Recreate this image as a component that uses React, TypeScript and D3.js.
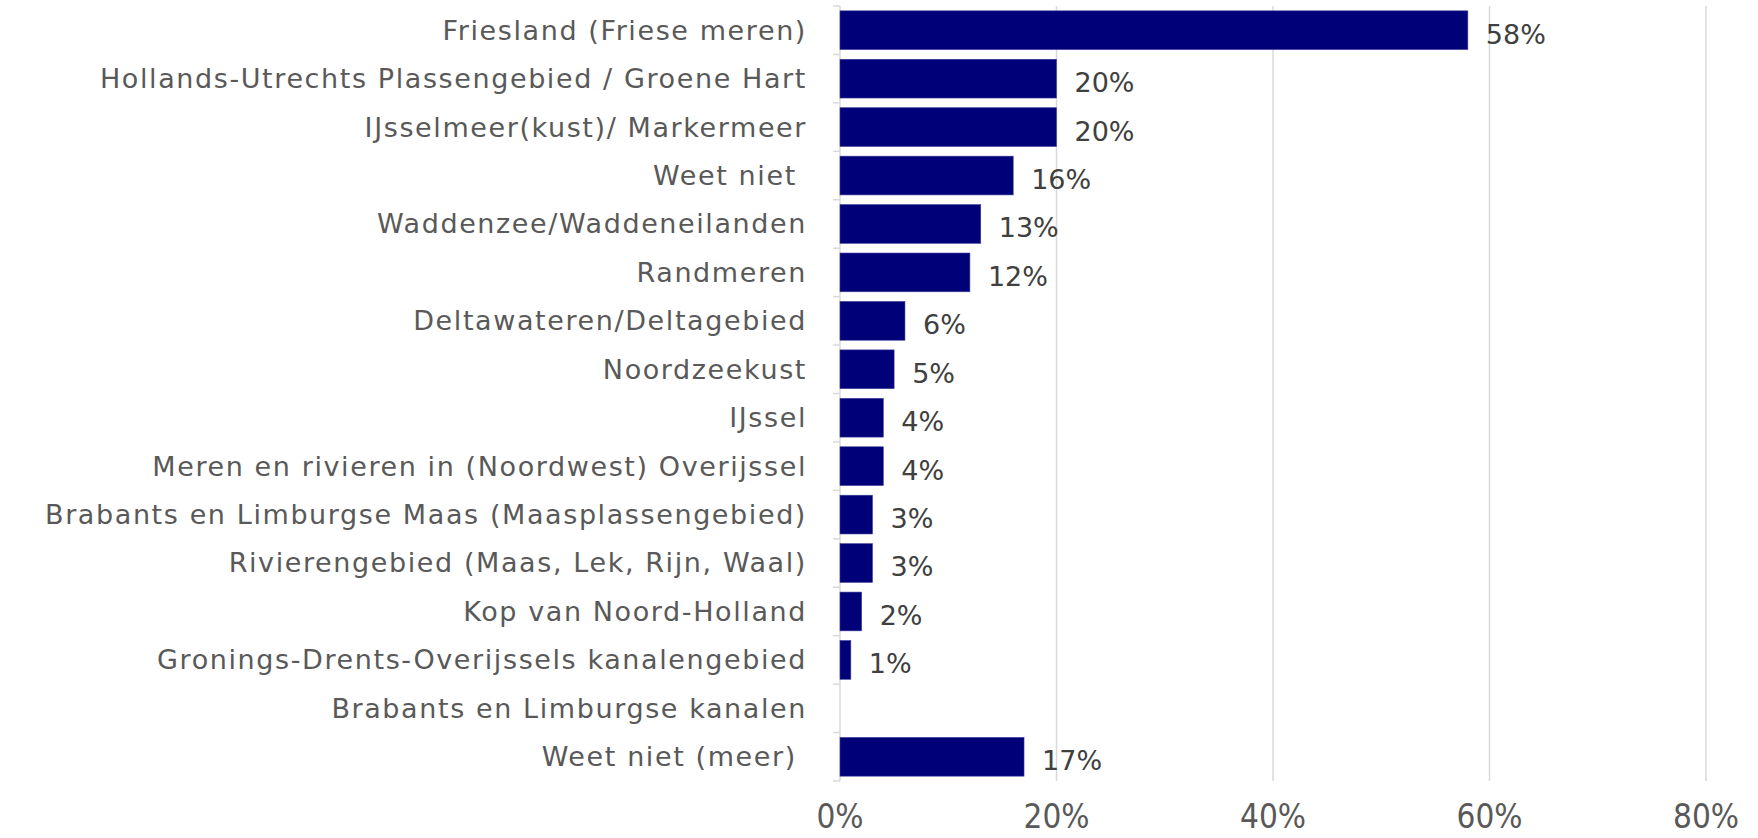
import React from "react";
import * as d3 from "d3";

const categories = [
  "Friesland (Friese meren)",
  "Hollands-Utrechts Plassengebied / Groene Hart",
  "IJsselmeer(kust)/ Markermeer",
  "Weet niet ",
  "Waddenzee/Waddeneilanden",
  "Randmeren",
  "Deltawateren/Deltagebied",
  "Noordzeekust",
  "IJssel",
  "Meren en rivieren in (Noordwest) Overijssel",
  "Brabants en Limburgse Maas (Maasplassengebied)",
  "Rivierengebied (Maas, Lek, Rijn, Waal)",
  "Kop van Noord-Holland",
  "Gronings-Drents-Overijssels kanalengebied",
  "Brabants en Limburgse kanalen",
  "Weet niet (meer) ",
];

const values = [58, 20, 20, 16, 13, 12, 6, 5, 4, 4, 3, 3, 2, 1, null, 17];

const xTicks = [0, 20, 40, 60, 80];

const W = 1758;
const H = 838;
const font = "'DejaVu Sans', sans-serif";
const condensed = "'DejaVu Sans Condensed', 'DejaVu Sans', sans-serif";

export default function App() {
  const x = d3.scaleLinear().domain([0, 80]).range([840, 1706]);
  const y = d3.scaleBand().domain(categories).range([6, 781]).paddingInner(0.2).paddingOuter(0.1);
  const step = y.step();
  const top = 6;
  const bottom = 781;

  return (
    <svg width={W} height={H} style={{ position: "absolute", left: 0, top: 0, background: "#fff" }}>
      {/* gridlines */}
      {xTicks.slice(1).map((t) => (
        <line key={t} x1={x(t)} x2={x(t)} y1={top} y2={bottom} stroke="#d9d9d9" strokeWidth={1.5} />
      ))}
      {/* category axis */}
      <line x1={x(0)} x2={x(0)} y1={top} y2={bottom} stroke="#d9d9d9" strokeWidth={1.5} />
      {d3.range(categories.length + 1).map((i) => (
        <line key={i} x1={x(0) - 7} x2={x(0)} y1={top + i * step} y2={top + i * step} stroke="#d9d9d9" strokeWidth={1.5} />
      ))}
      {/* bars */}
      {categories.map((c, i) =>
        values[i] == null ? null : (
          <rect key={c} x={x(0)} y={y(c)} width={x(values[i] as number) - x(0)} height={y.bandwidth()} fill="#000078" stroke="#3c3c9a" strokeWidth={0.6} />
        )
      )}
      {/* category labels */}
      {categories.map((c) => (
        <text key={c} x={x(0) - 33} y={(y(c) as number) + y.bandwidth() / 2} dy="0.35em" textAnchor="end" fontFamily={font} fontSize={27} letterSpacing={1.6} fill="#595959" style={{ whiteSpace: "pre" }}>
          {c}
        </text>
      ))}
      {/* value labels */}
      {categories.map((c, i) =>
        values[i] == null ? null : (
          <text key={c} x={x(values[i] as number) + 18} y={(y(c) as number) + y.bandwidth() / 2 + 4} dy="0.35em" fontFamily={font} fontSize={27} fill="#404040">
            {values[i]}%
          </text>
        )
      )}
      {/* x tick labels */}
      {xTicks.map((t) => (
        <text key={t} x={x(t)} y={816} dy="0.35em" textAnchor="middle" fontFamily={condensed} fontSize={33} fill="#595959">
          {t}%
        </text>
      ))}
    </svg>
  );
}
